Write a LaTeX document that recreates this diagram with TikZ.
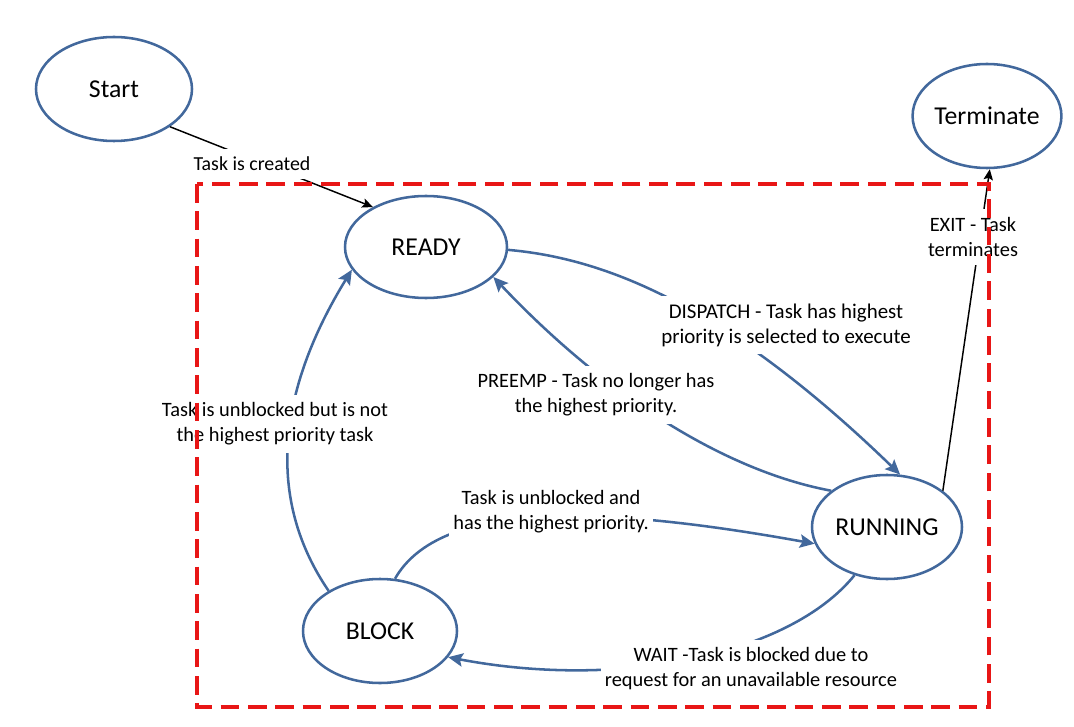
\documentclass[tikz,border=0pt]{standalone}
\usepackage{fontspec}
\setmainfont{Carlito}
\usetikzlibrary{shapes.geometric,arrows.meta}
\definecolor{sblue}{RGB}{66,104,156}
\definecolor{sred}{RGB}{232,22,22}
\begin{document}
\begin{tikzpicture}[x=0.75pt,y=-0.75pt,
  state/.style={ellipse,draw=sblue,line width=1.9pt,fill=white,inner sep=0pt,font=\fontsize{19.3}{23}\selectfont},
  lbl/.style={fill=white,align=center,inner xsep=3pt,inner ysep=6pt,font=\fontsize{15.3}{18.8}\selectfont},
  conn/.style={draw=sblue,line width=1.9pt,-{Stealth[length=11pt,width=10pt,inset=2pt]}},
  bconn/.style={draw=black,line width=1.1pt,-{Stealth[length=8pt,width=7pt,inset=1.5pt]}},
  area/.style={draw=sred,line width=2.6pt,dash pattern=on 14pt off 6.5pt}]
\useasboundingbox (0,0) rectangle (1074,727);
\node[state,minimum width=117pt,minimum height=78pt] (start) at (114,89) {Start};
\node[state,minimum width=110pt,minimum height=78pt] (term) at (987,116) {Terminate};
\node[state,minimum width=121.5pt,minimum height=76.5pt] (ready) at (426,247) {READY};
\node[state,minimum width=112.5pt,minimum height=78pt] (running) at (887,527) {RUNNING};
\node[state,minimum width=115.5pt,minimum height=78pt] (block) at (380,631) {BLOCK};

\draw[bconn] (start.-34) -- (ready.143);
\draw[bconn] (running.33) -- (term.-87);
\draw[conn] (ready.-2) .. controls (600,258) and (720,300) .. (running.76);
\draw[conn] (running.147) .. controls (720,470) and (600,390) .. (ready.-24);
\draw[conn] (block.74) .. controls (440,500) and (600,505) .. (running.-167);
\draw[conn] (block.142) .. controls (270,505) and (272,400) .. (ready.-163);
\draw[conn] (running.-124) .. controls (790,655) and (620,690) .. (block.-21);

\node[lbl,font=\fontsize{14.9}{18.8}\selectfont] (l1) at (252,164) {Task is created};
\node[lbl,font=\fontsize{15.7}{18.8}\selectfont] (l2) at (786,325) {DISPATCH - Task has highest\\priority is selected to execute};
\node[lbl] (l3) at (596,395) {PREEMP - Task no longer has\\the highest priority.};
\node[lbl] (l4) at (275,424) {Task is unblocked but is not\\the highest priority task};
\node[lbl] (l5) at (551,512) {Task is unblocked and\\has the highest priority.};
\node[lbl] (l6) at (751,669) {WAIT -Task is blocked due to\\request for an unavailable resource};
\node[lbl] (l7) at (973,237) {EXIT - Task\\terminates};

\draw[area] (197,184) rectangle (989,707);
\end{tikzpicture}
\end{document}
